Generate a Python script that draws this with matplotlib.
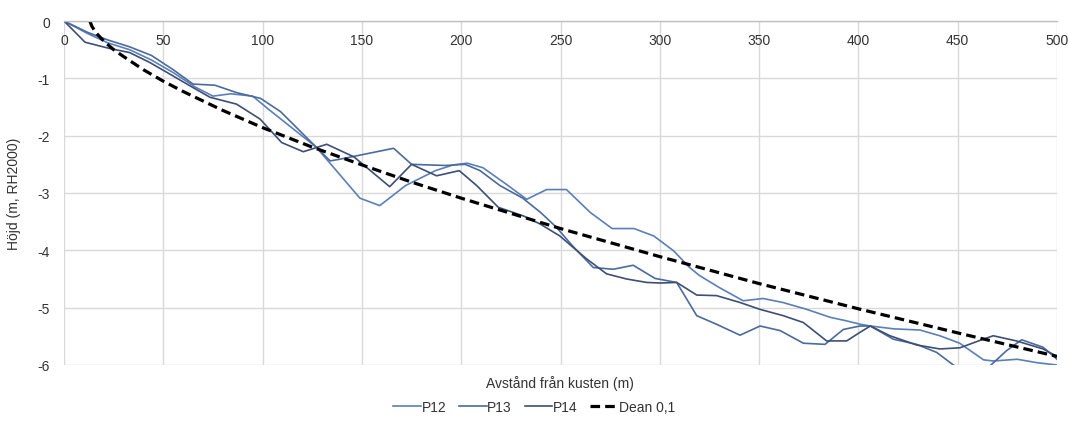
import matplotlib
matplotlib.use("Agg")
import matplotlib.pyplot as plt

plt.rcParams['font.family'] = ['Liberation Sans', 'DejaVu Sans']

# ---- data ----
p12_x = [0, 12, 22, 33, 44, 55, 66, 75, 84, 95, 103, 127, 149, 159, 172, 187, 196, 203, 211, 222,
         233, 243, 253, 265, 276, 287, 297, 307, 315, 320, 330, 342, 352, 362, 374, 386, 394, 401, 406, 418,
         431, 441, 451, 463, 468, 480, 490, 500]
p12_y = [0, -0.22, -0.38, -0.50, -0.68, -0.90, -1.15, -1.31, -1.27, -1.31, -1.54, -2.20, -3.09, -3.22, -2.87,
         -2.61, -2.51, -2.48, -2.56, -2.83, -3.11, -2.94, -2.94, -3.34, -3.62, -3.62, -3.75, -4.01, -4.30, -4.44,
         -4.65, -4.88, -4.84, -4.91, -5.03, -5.17, -5.23, -5.29, -5.32, -5.37, -5.39, -5.49, -5.62, -5.91, -5.93,
         -5.90, -5.96, -6.00]

p13_x = [0, 12, 22, 33, 44, 55, 65, 76, 87, 99, 109, 127, 134, 139, 166, 175, 192, 202, 209.5, 219.5,
         231, 240, 248, 256, 266.5, 276.6, 286.6, 297.6, 308.5, 318.6, 328.6, 340.4, 350.5, 360.6, 372.3, 383.2,
         392.4, 400.8, 406, 417.6, 429.3, 439.4, 447.8, 456, 465.5, 474.6, 482.2, 493, 500]
p13_y = [0, -0.20, -0.33, -0.45, -0.60, -0.85, -1.10, -1.12, -1.25, -1.35, -1.58, -2.20, -2.44, -2.41, -2.22,
         -2.50, -2.52, -2.50, -2.61, -2.87, -3.09, -3.34, -3.60, -3.92, -4.30, -4.33, -4.26, -4.49, -4.56, -5.14,
         -5.29, -5.48, -5.32, -5.40, -5.62, -5.64, -5.38, -5.32, -5.32, -5.55, -5.64, -5.78, -6.00, -6.15, -6.04,
         -5.75, -5.56, -5.69, -5.90]

p14_x = [0, 10.6, 23, 33, 43, 53, 63.4, 73.5, 86.9, 98.7, 109.6, 120.5, 132.3, 146, 164, 175, 187.6, 199,
         207.8, 218.7, 231.3, 239.7, 249.7, 256.4, 263.2, 273.2, 283.3, 293.4, 300.1, 308.5, 318.6, 328.6,
         340.4, 350.5, 362.2, 372.3, 384, 394.1, 400.8, 406, 415.9, 429.3, 441, 451.1, 462.9, 467.9, 479.6,
         493, 500]
p14_y = [0, -0.37, -0.48, -0.55, -0.72, -0.92, -1.13, -1.33, -1.45, -1.71, -2.12, -2.28, -2.15, -2.37, -2.89,
         -2.50, -2.70, -2.61, -2.87, -3.25, -3.40, -3.54, -3.75, -3.95, -4.15, -4.41, -4.50, -4.56, -4.57, -4.56,
         -4.78, -4.79, -4.91, -5.03, -5.14, -5.26, -5.58, -5.58, -5.43, -5.32, -5.49, -5.65, -5.72, -5.70, -5.55,
         -5.49, -5.58, -5.72, -5.85]

dean_x = [13, 14, 16, 20, 25, 30, 40, 50, 60, 80, 100, 125, 150, 175, 200, 250, 300, 350, 400, 450, 500]
dean_y = [0, -0.09, -0.20, -0.35, -0.50, -0.62, -0.85, -1.05, -1.23, -1.56, -1.86, -2.20, -2.51, -2.81,
          -3.09, -3.62, -4.11, -4.58, -5.02, -5.44, -5.85]

series_names = ["P12", "P13", "P14", "Dean 0,1"]
x_ticks = [0, 50, 100, 150, 200, 250, 300, 350, 400, 450, 500]
y_ticks = [0, -1, -2, -3, -4, -5, -6]

# ---- figure ----
fig = plt.figure(figsize=(10.69, 4.27), dpi=100)
ax = fig.add_axes([64 / 1069, 1 - 366 / 427, (1057 - 64) / 1069, (366 - 22) / 427])

ax.plot(p12_x, p12_y, color="#5b7fb8", lw=1.2, label=series_names[0])
ax.plot(p13_x, p13_y, color="#4a6b9c", lw=1.2, label=series_names[1])
ax.plot(p14_x, p14_y, color="#3d4f74", lw=1.2, label=series_names[2])
ax.plot(dean_x, dean_y, color="black", lw=2.3, linestyle=(0, (3, 1.6)), label=series_names[3])

ax.set_xlim(0, 500)
ax.set_ylim(-6, 0)
ax.set_xticks(x_ticks)
ax.set_yticks(y_ticks)
ax.set_xticklabels([str(v) for v in x_ticks])
ax.set_yticklabels([str(v) for v in y_ticks])

ax.grid(True, color="#d9d9d9", lw=1.0)
ax.set_axisbelow(True)
for s in ["left", "right", "bottom"]:
    ax.spines[s].set_visible(False)
ax.spines["top"].set_color("#bfbfbf")
ax.spines["top"].set_linewidth(1.0)

ax.tick_params(axis="x", top=True, bottom=False, labeltop=True, labelbottom=False,
               length=0, pad=-18.5, labelsize=10, labelcolor="#333333")
ax.tick_params(axis="y", length=0, pad=10, labelsize=10, labelcolor="#333333")

fig.text(14 / 1069, 1 - 194 / 427, "Höjd (m, RH2000)", rotation=90, ha="center", va="center",
         fontsize=10, color="#333333")
fig.text(560 / 1069, 1 - 384 / 427, "Avstånd från kusten (m)", ha="center", va="center",
         fontsize=10, color="#333333")

leg = fig.legend(loc="center", bbox_to_anchor=(534 / 1069, 1 - 408 / 427), ncol=4, frameon=False,
                 fontsize=10, handlelength=2.0, handletextpad=0.05, columnspacing=0.9)
for t in leg.get_texts():
    t.set_color("#333333")

fig.savefig("out.png", dpi=100)
